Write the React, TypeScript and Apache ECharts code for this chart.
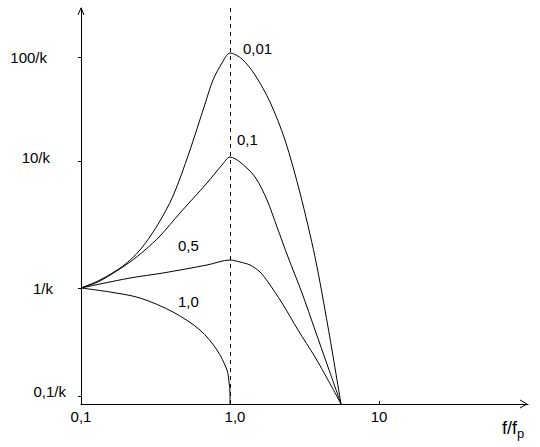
import React, { useEffect, useRef } from "react";
import * as echarts from "echarts";

// Curve parameter labels
const curveNames = ["0,01", "0,1", "0,5", "1,0"];

// [f/fp, height above the f-axis in drawing units]
const curve001: number[][] = [
  [0.1, 116], [0.1341, 124], [0.1914, 138], [0.2489, 154], [0.3236, 178],
  [0.4144, 208], [0.5306, 251], [0.6796, 300], [0.769, 324], [0.8837, 341],
  [1.0, 351], [1.204, 345], [1.472, 329], [1.856, 302], [2.339, 264],
  [2.95, 211], [3.72, 147], [4.548, 77], [5.559, 0],
];
const curve01: number[][] = [
  [0.1, 116], [0.1341, 123], [0.2133, 142], [0.2688, 154], [0.339, 168],
  [0.4617, 191], [0.7009, 221], [0.8837, 239], [1.0, 247], [1.167, 242],
  [1.472, 227], [1.772, 204], [2.068, 177], [2.451, 147], [3.043, 111],
  [3.72, 74], [4.548, 37], [5.559, 0],
];
const curve05: number[][] = [
  [0.1, 116], [0.2133, 126], [0.3551, 131], [0.7009, 139], [1.0, 144],
  [1.167, 142], [1.362, 139], [1.59, 132], [1.799, 122], [2.234, 101],
  [2.86, 74], [3.72, 47], [4.548, 24], [5.559, 0],
];
const curve10: number[][] = [
  [0.1, 116], [0.1565, 112], [0.2489, 106], [0.4144, 92], [0.629, 74],
  [0.8181, 54], [0.9548, 34], [0.9847, 22], [1.0, 11], [1.0, 0],
];

// Axis ticks and labels
const yTickValues = [8, 116, 243, 347];
const yTickLabels = ["0,1/k", "1/k", "10/k", "100/k"];
const xTickLabels: Record<string, string> = { "-1": "0,1", "0": "{s|1,0}", "1": "10" };
const markerX = 1;

const FONT = "'Liberation Sans', Arial, sans-serif";

export default function App() {
  const ref = useRef<HTMLDivElement>(null);
  useEffect(() => {
    if (!ref.current) return;
    const chart = echarts.init(ref.current, null, { renderer: "svg" });
    const lineStyle = { color: "#000", width: 1 };
    const mk = (name: string, data: number[][]) => ({
      name,
      type: "line",
      data,
      showSymbol: false,
      symbol: "none",
      smooth: 0.3,
      lineStyle,
      itemStyle: { color: "#000" },
      silent: true,
    });
    const series: any[] = [
      mk(curveNames[0], curve001),
      mk(curveNames[1], curve01),
      mk(curveNames[2], curve05),
      mk(curveNames[3], curve10),
    ];
    series[0].markLine = {
      silent: true,
      symbol: "none",
      label: { show: false },
      lineStyle: { color: "#000", width: 1, type: [4, 4] },
      data: [{ xAxis: markerX }],
    };
    const rich: any = {};
    const padR = [0, 13, 16, 19];
    const padB = [10, 0, 8, 0];
    yTickLabels.forEach((_, i) => {
      rich["t" + i] = {
        fontSize: 15,
        fontFamily: FONT,
        color: "#000",
        padding: [0, padR[i], padB[i], 0],
      };
    });
    const textStyle = { fontSize: 15, fontFamily: FONT, fill: "#000" };
    chart.setOption({
      animation: false,
      backgroundColor: "#fff",
      grid: { left: 81, right: 12, top: 8, bottom: 43, containLabel: false, outerBoundsMode: "none" },
      xAxis: {
        type: "log",
        logBase: 10,
        min: 0.1,
        max: 100,
        axisLine: { show: true, lineStyle: { color: "#000", width: 1 } },
        axisTick: { show: true, inside: true, length: 3, customValues: [10], lineStyle: { color: "#000" } },
        splitLine: { show: false },
        minorTick: { show: false },
        axisLabel: {
          margin: 5,
          fontSize: 15,
          fontFamily: FONT,
          color: "#000",
          showMaxLabel: false,
          rich: { s: { fontSize: 15, fontFamily: FONT, color: "#000", padding: [0, 0, 0, 10] } },
          formatter: (v: number) => xTickLabels[String(Math.round(Math.log10(v)))] ?? "",
        },
      },
      yAxis: {
        type: "value",
        min: 0,
        max: 396,
        axisLine: { show: true, lineStyle: { color: "#000", width: 1 } },
        axisTick: { show: true, length: 3, customValues: yTickValues, lineStyle: { color: "#000" } },
        splitLine: { show: false },
        axisLabel: {
          customValues: yTickValues,
          margin: 15,
          color: "#000",
          fontSize: 15,
          fontFamily: FONT,
          rich,
          formatter: (v: number) => {
            const i = yTickValues.indexOf(v);
            return i < 0 ? "" : `{t${i}|${yTickLabels[i]}}`;
          },
        },
      },
      graphic: [
        { type: "polyline", shape: { points: [[78, 15], [81, 8], [84, 15]] }, style: { stroke: "#000", fill: null, lineWidth: 1 } },
        { type: "polyline", shape: { points: [[520, 400], [527, 404], [520, 408]] }, style: { stroke: "#000", fill: null, lineWidth: 1 } },
        { type: "text", x: 243, y: 48, style: { ...textStyle, text: curveNames[0], verticalAlign: "middle" } },
        { type: "text", x: 237, y: 139, style: { ...textStyle, text: curveNames[1], verticalAlign: "middle" } },
        { type: "text", x: 178, y: 245, style: { ...textStyle, text: curveNames[2], verticalAlign: "middle" } },
        { type: "text", x: 178, y: 301, style: { ...textStyle, text: curveNames[3], verticalAlign: "middle" } },
        {
          type: "text",
          x: 502,
          y: 428,
          style: {
            text: "{a|f/f}{b|p}",
            verticalAlign: "middle",
            rich: {
              a: { fontSize: 18, fontFamily: FONT, fill: "#000", color: "#000" },
              b: { fontSize: 13, fontFamily: FONT, fill: "#000", color: "#000", padding: [10, 0, 0, 0] },
            },
          },
        },
      ],
      series,
    });
    return () => chart.dispose();
  }, []);
  return (
    <div
      ref={ref}
      style={{ position: "absolute", left: 0, top: 0, width: 540, height: 447, background: "#fff" }}
    />
  );
}
